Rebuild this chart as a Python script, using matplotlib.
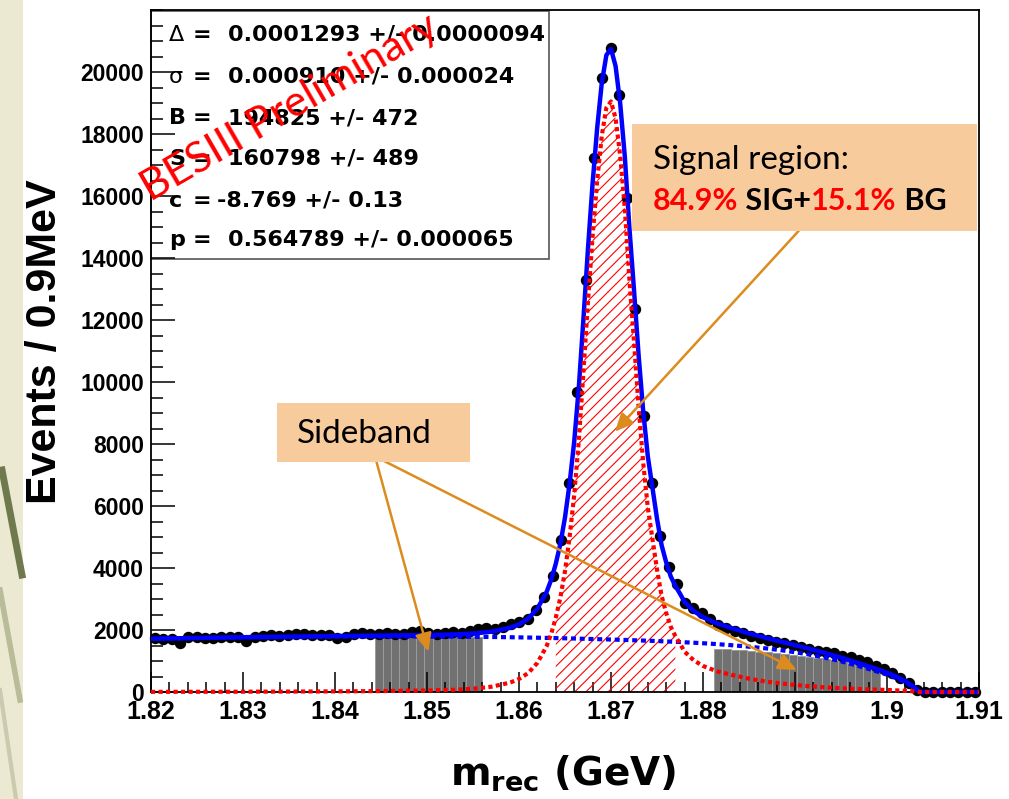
import numpy as np
import matplotlib
matplotlib.use("Agg")
import matplotlib.pyplot as plt
from matplotlib.patches import Rectangle, FancyArrowPatch
from matplotlib.ticker import MultipleLocator
from matplotlib.lines import Line2D

plt.rcParams["hatch.linewidth"] = 0.8

# ---------------- data ----------------
x_min, x_max = 1.82, 1.91
y_max = 22000
bin_width = 0.0009

counts = [1731, 1720, 1700, 1595, 1790, 1760, 1750, 1730, 1770, 1760,
          1790, 1660, 1760, 1800, 1850, 1800, 1830, 1860, 1870, 1830,
          1850, 1830, 1745, 1780, 1880, 1900, 1860, 1880, 1900, 1860,
          1880, 1940, 1970, 1900, 1870, 1900, 1940, 1900, 1980, 2030,
          2080, 2030, 2090, 2180, 2260, 2345, 2645, 3055, 3742, 4903,
          6752, 9687, 13290, 17235, 19797, 20765, 19258, 15925, 12345, 8903,
          6732, 5032, 4043, 3480, 2875, 2700, 2545, 2350, 2161, 2054,
          1968, 1892, 1806, 1731, 1677, 1624, 1570, 1516, 1441, 1376,
          1333, 1290, 1247, 1172, 1118, 1032, 978, 839, 731, 602,
          441, 280, 65, 0, 0, 0, 0, 0, 0, 0]

curve_x = [1.8200, 1.8250, 1.8300, 1.8350, 1.8400, 1.8450, 1.8500, 1.8530, 1.8550,
           1.8570, 1.8590, 1.8600, 1.8610, 1.8620, 1.8630, 1.8635, 1.8640, 1.8645,
           1.8650, 1.8655, 1.8660, 1.8665, 1.8670, 1.8675, 1.8680, 1.8685, 1.8690,
           1.8695, 1.8700, 1.8705, 1.8710, 1.8715, 1.8720, 1.8725, 1.8730, 1.8735,
           1.8740, 1.8745, 1.8750, 1.8755, 1.8760, 1.8765, 1.8770, 1.8775, 1.8780,
           1.8790, 1.8800, 1.8815, 1.8830, 1.8850, 1.8870, 1.8890, 1.8910, 1.8930,
           1.8950, 1.8970, 1.8985, 1.9000, 1.9010, 1.9020, 1.9030, 1.9035, 1.9050,
           1.9100]

curve_total = [1717, 1745, 1768, 1787, 1804, 1820, 1838, 1858, 1886,
               1945, 2067, 2182, 2367, 2691, 3225, 3622, 4139, 4785,
               5632, 6728, 8075, 9821, 12017, 14313, 16409, 18205, 19651,
               20547, 20742, 20188, 18983, 17279, 14974, 12969, 10864, 9059,
               7604, 6599, 5593, 4737, 4181, 3725, 3418, 3171, 2904,
               2609, 2413, 2215, 2072, 1892, 1732, 1587, 1435, 1280,
               1110, 925, 780, 625, 497, 350, 148, 0, 0,
               0]

curve_bkg = [1712, 1738, 1758, 1773, 1784, 1790, 1790, 1786, 1781,
             1775, 1767, 1762, 1757, 1751, 1745, 1742, 1739, 1735,
             1732, 1728, 1725, 1721, 1717, 1713, 1709, 1705, 1701,
             1697, 1692, 1688, 1683, 1679, 1674, 1669, 1664, 1659,
             1654, 1649, 1643, 1637, 1631, 1625, 1618, 1611, 1604,
             1589, 1573, 1545, 1512, 1462, 1402, 1327, 1235, 1125,
             990, 830, 700, 560, 445, 310, 130, 0, 0,
             0]

curve_sig = [5, 7, 10, 14, 20, 30, 48, 72, 105,
             170, 300, 420, 610, 940, 1480, 1880, 2400, 3050,
             3900, 5000, 6350, 8100, 10300, 12600, 14700, 16500, 17950,
             18850, 19050, 18500, 17300, 15600, 13300, 11300, 9200, 7400,
             5950, 4950, 3950, 3100, 2550, 2100, 1800, 1560, 1300,
             1020, 840, 670, 560, 430, 330, 260, 200, 155,
             120, 95, 80, 65, 52, 40, 18, 0, 0,
             0]

signal_region = (1.8640, 1.8770)

left_sb_bins = list(range(27, 40))
left_sb_heights = [1765, 1766, 1767, 1768, 1768, 1769, 1769, 1769, 1768, 1768, 1767, 1766, 1765]
right_sb_bins = list(range(68, 88))
right_sb_heights = [1400, 1385, 1365, 1345, 1325, 1300, 1275, 1250, 1225, 1195,
                    1165, 1135, 1100, 1065, 1030, 990, 945, 890, 830, 750]

yticks = [0, 2000, 4000, 6000, 8000, 10000, 12000, 14000, 16000, 18000, 20000]
ytick_labels = ["0", "2000", "4000", "6000", "8000", "10000", "12000", "14000",
                "16000", "18000", "20000"]
xticks = [1.82, 1.83, 1.84, 1.85, 1.86, 1.87, 1.88, 1.89, 1.90, 1.91]
xtick_labels = ["1.82", "1.83", "1.84", "1.85", "1.86", "1.87", "1.88", "1.89", "1.9", "1.91"]

stats_symbols = ["\u0394", "\u03c3", "B", "S", "c", "p"]
stats_values = ["0.0001293 +/- 0.0000094", "0.000910 +/- 0.000024", "194825 +/- 472",
                "160798 +/- 489", "-8.769 +/- 0.13", "0.564789 +/- 0.000065"]

# ---------------- figure ----------------
W, H = 1009, 799
fig = plt.figure(figsize=(W / 100, H / 100), dpi=100)
fig.patch.set_facecolor("white")


def P(x, y):
    return x / W, 1 - y / H


# slide background strip on the left
fig.patches.append(Rectangle((0, 0), 23 / W, 1, transform=fig.transFigure,
                             facecolor="#ECE9D2", edgecolor="none", zorder=0))
for (xa, ya, xb, yb, c, lw) in [(2, 470, 22, 575, "#6E7A4E", 5),
                                (0, 590, 20, 700, "#B9BC98", 4),
                                (0, 690, 16, 799, "#C9CAAE", 3)]:
    fig.add_artist(Line2D([xa / W, xb / W], [1 - ya / H, 1 - yb / H],
                          transform=fig.transFigure, color=c, lw=lw, zorder=0.5))

ax = fig.add_axes([151 / W, 1 - 692 / H, 828 / W, 682 / H])
ax.set_xlim(x_min, x_max)
ax.set_ylim(0, y_max)

centers = x_min + (np.arange(len(counts)) + 0.5) * bin_width

# sideband histograms
ax.bar(x_min + (np.array(left_sb_bins) + 0.5) * bin_width, left_sb_heights,
       width=bin_width, color="#717171", edgecolor="#9C9C9C", linewidth=0.7, zorder=1)
ax.bar(x_min + (np.array(right_sb_bins) + 0.5) * bin_width, right_sb_heights,
       width=bin_width, color="#717171", edgecolor="#9C9C9C", linewidth=0.7, zorder=1)

# hatched signal region
cx = np.array(curve_x)
cs = np.array(curve_sig)
m = (cx >= signal_region[0] - 1e-9) & (cx <= signal_region[1] + 1e-9)
ax.fill_between(cx[m], 0, cs[m], facecolor="none", edgecolor="#FF0000",
                hatch="///", linewidth=0, zorder=2)

# data
ax.plot(centers, counts, "o", color="black", ms=7.2, zorder=3, clip_on=False)

# curves
ax.plot(curve_x, curve_total, color="#0000FF", lw=3.2, zorder=4, clip_on=False,
        solid_capstyle="butt")
ax.plot(curve_x, curve_bkg, color="#0000FF", lw=3.0, dashes=(1.2, 0.9), zorder=4,
        clip_on=False)
ax.plot(curve_x, curve_sig, color="#FF0000", lw=3.0, dashes=(1.0, 0.8), zorder=5,
        clip_on=False)

# axes styling
for sp in ax.spines.values():
    sp.set_linewidth(1.3)
    sp.set_color("black")
ax.set_xticks(xticks)
ax.set_xticklabels(xtick_labels)
ax.set_yticks(yticks)
ax.set_yticklabels(ytick_labels)
ax.xaxis.set_minor_locator(MultipleLocator(0.002))
ax.yaxis.set_minor_locator(MultipleLocator(500))
ax.tick_params(axis="x", which="major", direction="in", length=14.5, width=1.1, pad=6,
               top=False, labelsize=18)
ax.tick_params(axis="x", which="minor", direction="in", length=7.2, width=1.1, top=False)
ax.tick_params(axis="y", which="major", direction="in", length=17, width=1.1, pad=5,
               right=False, labelsize=16.5)
ax.tick_params(axis="y", which="minor", direction="in", length=8.5, width=1.1, right=False)
for lab in ax.get_xticklabels() + ax.get_yticklabels():
    lab.set_fontweight("bold")
    lab.set_family("Liberation Sans")

# axis titles
fig.text(*P(45, 342), "Events / 0.9MeV", rotation=90, ha="center", va="center",
         fontsize=31, fontweight="bold", family="Liberation Sans")
fig.text(*P(563, 785), r"$\mathbf{m}_{\mathbf{rec}}$ (GeV)", ha="center", va="baseline",
         fontsize=28, fontweight="bold", family="DejaVu Sans")

# stats box
ax.add_patch(Rectangle(P(151, 259), (549 - 151) / W, (259 - 11) / H,
                       transform=fig.transFigure, facecolor="white", edgecolor="#555555",
                       lw=1.2, zorder=1.2, clip_on=False))
baselines = [41, 83, 124, 165, 207, 246]
for sym, val, yb in zip(stats_symbols, stats_values, baselines):
    if sym in ("\u0394", "\u03c3"):
        ax.text(*P(169, yb), sym, transform=fig.transFigure, fontsize=16,
                family="DejaVu Sans", va="baseline", zorder=8, clip_on=False)
    else:
        ax.text(*P(169, yb), sym, transform=fig.transFigure, fontsize=16,
                fontweight="bold", family="DejaVu Sans", va="baseline", zorder=8,
                clip_on=False)
    ax.text(*P(193, yb), "=", transform=fig.transFigure, fontsize=16,
            fontweight="bold", family="DejaVu Sans", va="baseline", zorder=8, clip_on=False)
    xv = 217 if val.startswith("-") else 228
    ax.text(*P(xv, yb), val, transform=fig.transFigure, fontsize=16,
            fontweight="bold", family="DejaVu Sans", va="baseline", zorder=8, clip_on=False)

# BESIII Preliminary
ax.text(*P(290, 108), "BESIII Preliminary", transform=fig.transFigure, rotation=30,
        rotation_mode="anchor", ha="center", va="center", color="#FF0000",
        fontsize=31, family="Lato", zorder=9, clip_on=False)

# arrows (data coordinates)
orange = "#DC8C1E"
arrow_kw = dict(arrowstyle="-|>,head_length=0.55,head_width=0.25", mutation_scale=20,
                color=orange, lw=1.8, shrinkA=0, shrinkB=0, zorder=6, clip_on=False)
ax.add_patch(FancyArrowPatch((1.89109, 15100), (1.87043, 8397), **arrow_kw))
ax.add_patch(FancyArrowPatch((1.84435, 7600), (1.85014, 1300), **arrow_kw))
ax.add_patch(FancyArrowPatch((1.84435, 7600), (1.89018, 710), **arrow_kw))

# annotation boxes
box_col = "#F8CB9D"
ax.add_patch(Rectangle(P(632, 231), (977 - 632) / W, (231 - 124) / H,
                       transform=fig.transFigure, facecolor=box_col, edgecolor="none",
                       zorder=7, clip_on=False))
ax.add_patch(Rectangle(P(277, 462), (470 - 277) / W, (462 - 403) / H,
                       transform=fig.transFigure, facecolor=box_col, edgecolor="none",
                       zorder=7, clip_on=False))
ax.text(*P(297, 443), "Sideband", transform=fig.transFigure, fontsize=24, family="Lato",
        va="baseline", zorder=8, clip_on=False)
ax.text(*P(653, 169), "Signal region:", transform=fig.transFigure, fontsize=24,
        family="Lato", va="baseline", zorder=8, clip_on=False)

segs = [("84.9%", "#FF0000"), (" SIG+", "black"), ("15.1%", "#FF0000"), (" BG", "black")]
prev = ax.text(*P(653, 210), segs[0][0], transform=fig.transFigure, fontsize=22,
               fontweight="bold", family="Lato", color=segs[0][1], va="baseline",
               zorder=8, clip_on=False)
for s, c in segs[1:]:
    prev = ax.annotate(s, xy=(1, 0), xycoords=prev, va="bottom", ha="left",
                       fontsize=22, fontweight="bold", family="Lato", color=c,
                       zorder=8, annotation_clip=False)

fig.savefig("out.png", dpi=100)
